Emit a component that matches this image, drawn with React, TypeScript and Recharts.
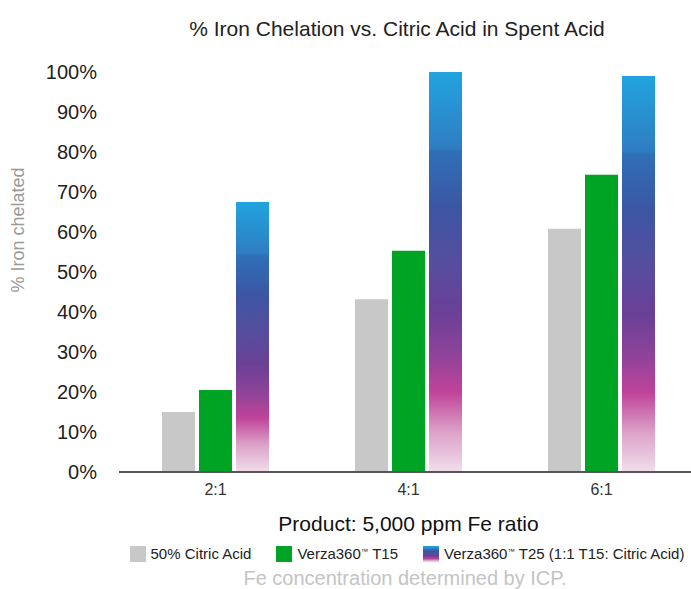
import React from 'react';
import { BarChart, Bar, XAxis, YAxis, Legend } from 'recharts';

const ratios = ['2:1', '4:1', '6:1'];
const citricAcid = [15, 43.2, 60.8];
const verzaT15 = [20.5, 55.3, 74.3];
const verzaT25 = [67.5, 100, 99];
const yTicks = [0, 10, 20, 30, 40, 50, 60, 70, 80, 90, 100];

const seriesNames = ['50% Citric Acid', 'Verza360™ T15', 'Verza360™ T25 (1:1 T15: Citric Acid)'];

const data = ratios.map((ratio, i) => ({
  ratio,
  citric: citricAcid[i],
  t15: verzaT15[i],
  t25: verzaT25[i],
}));

const FONT = '"Liberation Sans", Arial, sans-serif';

// gradient stops for the T25 bars (top -> bottom)
const gradStops = [
  { o: 0, c: '#22a4df' },
  { o: 0.19, c: '#2f7dc1' },
  { o: 0.2, c: '#2f6fb6' },
  { o: 0.34, c: '#3c56a3' },
  { o: 0.48, c: '#564d9e' },
  { o: 0.6, c: '#6a4096' },
  { o: 0.7, c: '#8b4399' },
  { o: 0.8, c: '#c0439a' },
  { o: 0.9, c: '#dca2c8' },
  { o: 1, c: '#f1deec' },
];

const cssGradient =
  'linear-gradient(to bottom, ' + gradStops.map((s) => `${s.c} ${s.o * 100}%`).join(', ') + ')';

const legendSwatches = ['#c8c8c8', '#00a424', cssGradient];

// render the ™ sign small and raised like the original
const withTm = (name: string) => {
  const parts = name.split('™');
  return parts.map((p, i) => (
    <React.Fragment key={i}>
      {p}
      {i < parts.length - 1 && <span style={{ fontSize: '0.5em', verticalAlign: '0.7em' }}>™</span>}
    </React.Fragment>
  ));
};

const LegendContent = () => (
  <div
    style={{
      display: 'flex',
      justifyContent: 'center',
      fontFamily: FONT,
      fontSize: 15,
      color: '#222',
      whiteSpace: 'nowrap',
    }}
  >
    {seriesNames.map((name, i) => (
      <div key={name} style={{ display: 'flex', alignItems: 'center', flexShrink: 0, marginLeft: i === 0 ? 0 : 25 }}>
        <span style={{ display: 'inline-block', width: 16, height: 16, background: legendSwatches[i], marginRight: 5 }} />
        <span>{withTm(name)}</span>
      </div>
    ))}
  </div>
);

const YLabel = () => (
  <text
    x={19}
    y={230}
    transform="rotate(-90 19 230)"
    textAnchor="middle"
    dominantBaseline="middle"
    fill="#9a9a9a"
    fontSize={18}
    fontFamily={FONT}
  >
    % Iron chelated
  </text>
);

export default function App() {
  return (
    <div style={{ position: 'absolute', left: 0, top: 0, width: 691, height: 589, overflow: 'hidden', background: '#fff' }}>
      <div
        style={{
          position: 'absolute',
          left: 0,
          width: 794,
          top: 17,
          textAlign: 'center',
          fontFamily: FONT,
          fontSize: 21,
          lineHeight: '24px',
          color: '#222',
        }}
      >
        % Iron Chelation vs. Citric Acid in Spent Acid
      </div>
      <BarChart
        width={698}
        height={589}
        data={data}
        margin={{ top: 72, right: 0, left: 0, bottom: 58 }}
        barSize={33}
        barGap={4}
      >
        <defs>
          <linearGradient id="t25Grad" x1="0" y1="0" x2="0" y2="1">
            {gradStops.map((s) => (
              <stop key={s.o} offset={s.o} stopColor={s.c} />
            ))}
          </linearGradient>
        </defs>
        <XAxis
          dataKey="ratio"
          height={59}
          tickLine={false}
          tickMargin={6}
          axisLine={{ stroke: '#555', strokeWidth: 2 }}
          tick={{ fill: '#333', fontSize: 16, fontFamily: FONT }}
          label={{
            value: 'Product: 5,000 ppm Fe ratio',
            position: 'insideBottom',
            offset: 0,
            fill: '#111',
            fontSize: 21,
            fontFamily: FONT,
          }}
        />
        <YAxis
          width={119}
          domain={[0, 100]}
          ticks={yTicks}
          interval={0}
          axisLine={false}
          tickLine={false}
          tickMargin={16}
          tickFormatter={(v) => `${v}%`}
          tick={{ fill: '#222', fontSize: 20, fontFamily: FONT }}
          label={<YLabel />}
        />
        <Legend
          verticalAlign="middle"
          content={<LegendContent />}
          wrapperStyle={{ top: 545, left: 0, width: 814, height: 20 }}
        />
        <Bar dataKey="citric" name={seriesNames[0]} fill="#c8c8c8" isAnimationActive={false} />
        <Bar dataKey="t15" name={seriesNames[1]} fill="#00a424" isAnimationActive={false} />
        <Bar dataKey="t25" name={seriesNames[2]} fill="url(#t25Grad)" isAnimationActive={false} />
      </BarChart>
      <div
        style={{
          position: 'absolute',
          left: 0,
          width: 810,
          top: 569,
          textAlign: 'center',
          fontFamily: FONT,
          fontSize: 20,
          lineHeight: '18px',
          color: '#c4c4c4',
        }}
      >
        Fe concentration determined by ICP.
      </div>
    </div>
  );
}
